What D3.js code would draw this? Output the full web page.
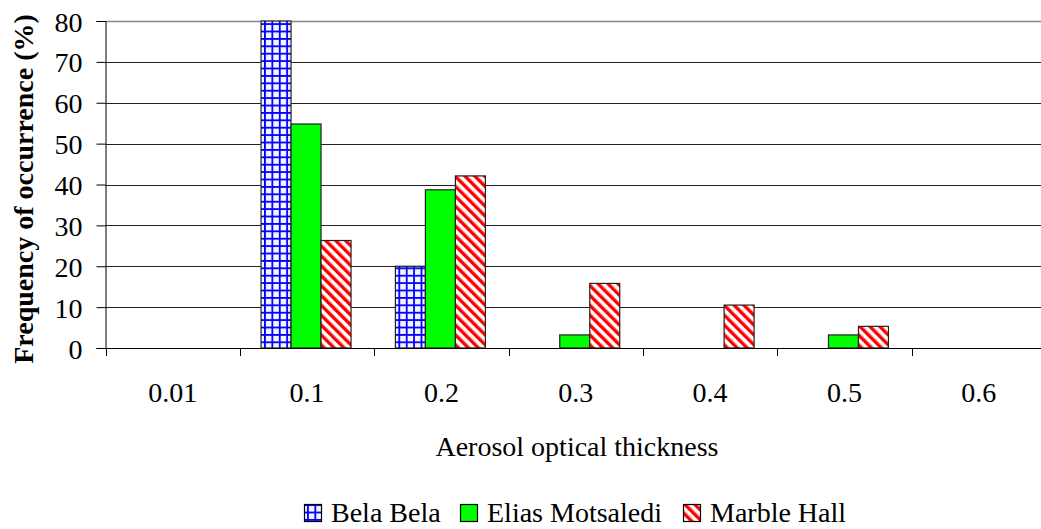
<!DOCTYPE html>
<html>
<head>
<meta charset="utf-8">
<script src="https://cdn.jsdelivr.net/npm/d3@7"></script>
<style>
  html, body { margin: 0; padding: 0; background: #fff; }
  svg { display: block; }
</style>
</head>
<body>
<svg id="chart" width="1041" height="529"></svg>
<script>
// Aerosol optical thickness classes and frequency of occurrence (%) per site
const categories = ["0.01", "0.1", "0.2", "0.3", "0.4", "0.5", "0.6"];
const seriesNames = ["Bela Bela", "Elias Motsaledi", "Marble Hall"];
const belaBela = [0, 80, 20, 0, 0, 0, 0];
const eliasMotsaledi = [0, 54.8, 38.7, 3.2, 0, 3.2, 0];
const marbleHall = [0, 26.3, 42.1, 15.8, 10.5, 5.3, 0];
const yTicks = [0, 10, 20, 30, 40, 50, 60, 70, 80];

const seriesValues = [belaBela, eliasMotsaledi, marbleHall];
const rows = categories.map((c, i) => ({
  cat: c,
  vals: seriesNames.map((s, k) => ({ key: s, k, v: seriesValues[k][i] }))
}));

const FONT = '"Liberation Serif", "Times New Roman", serif';
const FS = "28px";
const svg = d3.select("#chart");
const plotLeft = 105.5, plotRight = 1046, plotTop = 21, plotBottom = 348;

// Fill patterns
const defs = svg.append("defs");
const grid = defs.append("pattern")
  .attr("id", "pat-grid").attr("patternUnits", "userSpaceOnUse")
  .attr("width", 7.4).attr("height", 7.4).attr("x", 3).attr("y", 1);
grid.append("rect").attr("width", 7.4).attr("height", 7.4).attr("fill", "#f4f4ff");
grid.append("rect").attr("x", 0).attr("y", 0).attr("width", 1.8).attr("height", 7.4).attr("fill", "#0000ff");
grid.append("rect").attr("x", 0).attr("y", 0).attr("width", 7.4).attr("height", 1.8).attr("fill", "#0000ff");

const stripe = defs.append("pattern")
  .attr("id", "pat-stripe").attr("patternUnits", "userSpaceOnUse")
  .attr("width", 7).attr("height", 7).attr("patternTransform", "rotate(-45)");
stripe.append("rect").attr("width", 7).attr("height", 7).attr("fill", "#fff");
stripe.append("rect").attr("width", 3.4).attr("height", 7).attr("fill", "#ff0000");

const fills = ["url(#pat-grid)", "#00ff00", "url(#pat-stripe)"];

const x = d3.scaleBand().domain(categories).range([plotLeft, plotRight]).paddingInner(0).paddingOuter(0);
const x1 = d3.scaleBand().domain(seriesNames).range([0, 90]);
const groupOffset = (x.bandwidth() - 90) / 2 - 1;
const y = d3.scaleLinear().domain([0, 80]).range([plotBottom, plotTop]);

// Horizontal gridlines
svg.append("g")
  .selectAll("line").data(yTicks.filter(t => t > 0)).join("line")
  .attr("x1", plotLeft).attr("x2", 1041)
  .attr("y1", d => Math.round(y(d)) + 0.5).attr("y2", d => Math.round(y(d)) + 0.5)
  .attr("stroke", d => d === 80 ? "#888" : "#222")
  .attr("stroke-width", d => d === 80 ? 1.6 : 1);

// Bars
const groups = svg.append("g").selectAll("g").data(rows).join("g")
  .attr("transform", d => `translate(${x(d.cat) + groupOffset},0)`);
groups.selectAll("rect").data(d => d.vals.filter(v => v.v > 0)).join("rect")
  .attr("x", d => x1(d.key))
  .attr("width", x1.bandwidth())
  .attr("y", d => y(d.v))
  .attr("height", d => plotBottom - y(d.v))
  .attr("fill", d => fills[d.k])
  .attr("stroke", "#222").attr("stroke-width", 1.2);

// Y axis
const yAxis = svg.append("g").attr("transform", `translate(${plotLeft},0)`)
  .call(d3.axisLeft(y).tickValues(yTicks).tickSize(9).tickPadding(14).tickFormat(d3.format("d")));
yAxis.style("font-family", FONT).style("font-size", FS);
yAxis.select(".domain").attr("stroke", "#000");
yAxis.selectAll(".tick line").attr("stroke", "#000");
yAxis.selectAll("text").attr("fill", "#000").attr("dy", "0.36em");

// X axis
const xAxis = svg.append("g").attr("transform", `translate(0,${plotBottom})`)
  .call(d3.axisBottom(x).tickSize(0).tickPadding(34));
xAxis.style("font-family", FONT).style("font-size", FS);
xAxis.select(".domain").attr("stroke", "#000");
xAxis.selectAll("text").attr("fill", "#000");
// Category boundary ticks
svg.append("g").selectAll("line").data(categories).join("line")
  .attr("x1", d => Math.round(x(d)) + 0.5).attr("x2", d => Math.round(x(d)) + 0.5)
  .attr("y1", plotBottom).attr("y2", plotBottom + 8).attr("stroke", "#000");

// Axis titles
svg.append("text").attr("x", 577).attr("y", 456).attr("text-anchor", "middle")
  .style("font-family", FONT).style("font-size", FS).text("Aerosol optical thickness");
svg.append("text").attr("transform", `translate(33,189) rotate(-90)`)
  .attr("text-anchor", "middle").style("font-family", FONT).style("font-size", FS)
  .style("font-weight", "bold").text("Frequency of occurrence (%)");

// Legend
const legendItems = [
  { name: "Bela Bela", x: 304 },
  { name: "Elias Motsaledi", x: 460 },
  { name: "Marble Hall", x: 683 }
];
const lg = svg.append("g").selectAll("g").data(legendItems).join("g")
  .attr("transform", d => `translate(${d.x},0)`);
lg.append("rect").attr("x", 0.5).attr("y", 504.5).attr("width", 17).attr("height", 17)
  .attr("fill", (d, i) => fills[i]).attr("stroke", "#000").attr("stroke-width", 1.2);
lg.append("text").attr("x", 27).attr("y", 522).style("font-family", FONT).style("font-size", FS)
  .text(d => d.name);
</script>
</body>
</html>
